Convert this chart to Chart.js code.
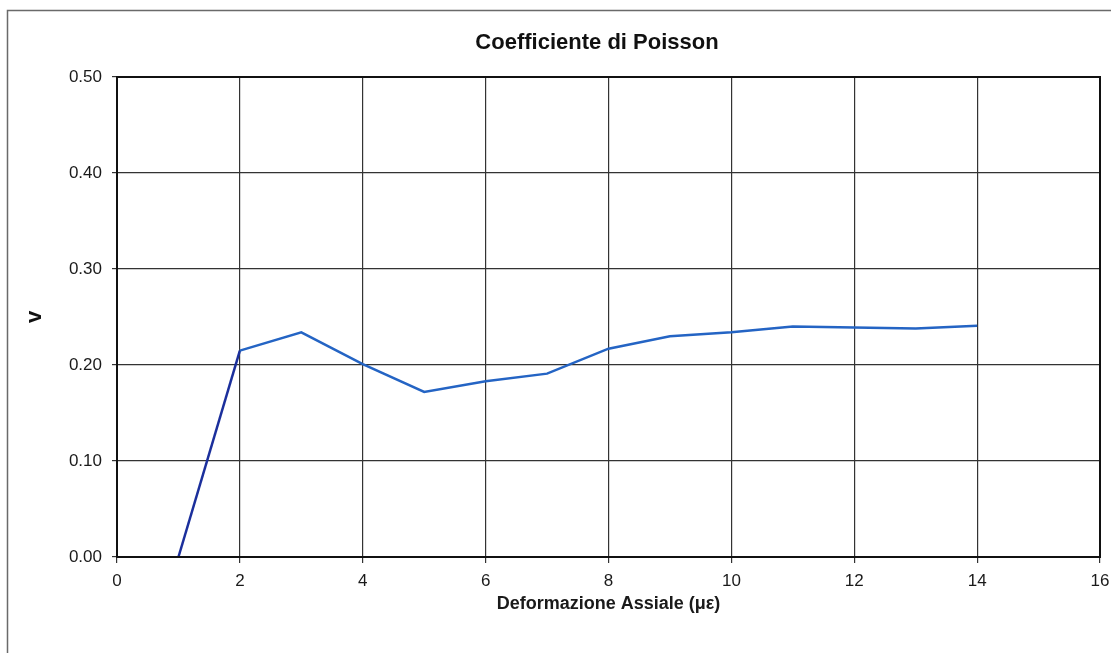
<!DOCTYPE html>
<html>
<head>
<meta charset="utf-8">
<script src="https://cdn.jsdelivr.net/npm/chart.js@4/dist/chart.umd.min.js"></script>
<style>
  html, body { margin: 0; padding: 0; background: #ffffff; }
  #wrap { width: 1111px; height: 653px; position: relative; }
</style>
</head>
<body>
<div id="wrap"><canvas id="c" width="1111" height="653"></canvas></div>
<script>
// ---- data ----
const chartTitle = "Coefficiente di Poisson";
const xAxisTitle = "Deformazione Assiale (\u03bc\u03b5)";
const yAxisTitle = "v";
const axialStrain = [1, 2, 3, 4, 5, 6, 7, 8, 9, 10, 11, 12, 13, 14];
const poissonRatio = [0.000, 0.215, 0.234, 0.201, 0.172, 0.183, 0.191, 0.217, 0.230, 0.234, 0.240, 0.239, 0.238, 0.241];
const xTicks = [0, 2, 4, 6, 8, 10, 12, 14, 16];
const yTicks = [0.00, 0.10, 0.20, 0.30, 0.40, 0.50];

const FONT = "'Liberation Sans', Arial, Helvetica, sans-serif";

const framePlugin = {
  id: 'framePlugin',
  beforeDraw(chart) {
    const ctx = chart.ctx;
    ctx.save();
    ctx.fillStyle = '#ffffff';
    ctx.fillRect(0, 0, chart.width, chart.height);
    ctx.strokeStyle = '#6a6a6a';
    ctx.lineWidth = 1.5;
    ctx.strokeRect(7.5, 10.5, chart.width + 20, chart.height + 20);
    ctx.restore();
  },
  afterDraw(chart) {
    const ctx = chart.ctx;
    const a = chart.chartArea;
    ctx.save();
    ctx.strokeStyle = '#111111';
    ctx.lineWidth = 2;
    ctx.strokeRect(a.left, a.top, a.right - a.left, a.bottom - a.top);
    ctx.fillStyle = '#111111';
    ctx.font = 'bold 22px ' + FONT;
    ctx.textAlign = 'center';
    ctx.textBaseline = 'middle';
    ctx.fillText(chartTitle, 597, 43);
    ctx.restore();
  }
};

const points = axialStrain.map((x, i) => ({ x: x, y: poissonRatio[i] }));

new Chart(document.getElementById('c'), {
  type: 'line',
  data: {
    datasets: [{
      data: points,
      borderColor: '#2464c4',
      borderWidth: 2.5,
      pointRadius: 0,
      tension: 0,
      fill: false,
      segment: {
        borderColor: ctx => ctx.p0DataIndex === 0 ? '#1b2f9c' : undefined
      }
    }]
  },
  options: {
    responsive: false,
    animation: false,
    devicePixelRatio: 1,
    layout: { padding: { left: 0, right: 11, top: 77, bottom: 0 } },
    plugins: {
      legend: { display: false },
      title: { display: false },
      tooltip: { enabled: false }
    },
    scales: {
      x: {
        type: 'linear',
        min: 0, max: 16,
        afterBuildTicks: s => { s.ticks = xTicks.map(v => ({ value: v })); },
        afterFit: s => { s.height = 96; s.paddingLeft = 0; s.paddingRight = 0; },
        ticks: {
          color: '#1a1a1a',
          font: { family: FONT, size: 17 },
          padding: 8,
          maxRotation: 0,
          callback: v => String(v)
        },
        grid: { color: '#333333', lineWidth: 1.2, tickLength: 6, drawTicks: true },
        border: { color: '#111111', width: 2 },
        title: {
          display: true,
          text: xAxisTitle,
          color: '#1a1a1a',
          font: { family: FONT, size: 18, weight: 'bold' },
          padding: { top: 0, bottom: 38 }
        }
      },
      y: {
        type: 'linear',
        min: 0, max: 0.5,
        afterBuildTicks: s => { s.ticks = yTicks.map(v => ({ value: v })); },
        afterFit: s => { s.width = 117; s.paddingTop = 0; s.paddingBottom = 0; },
        ticks: {
          color: '#1a1a1a',
          font: { family: FONT, size: 17 },
          padding: 10,
          callback: v => Number(v).toFixed(2)
        },
        grid: { color: '#333333', lineWidth: 1.2, tickLength: 5, drawTicks: true },
        border: { color: '#111111', width: 2 },
        title: {
          display: true,
          text: yAxisTitle,
          color: '#111111',
          font: { family: FONT, size: 22, weight: 'bold' },
          padding: { top: 22, bottom: 0 }
        }
      }
    }
  },
  plugins: [framePlugin]
});
</script>
</body>
</html>
